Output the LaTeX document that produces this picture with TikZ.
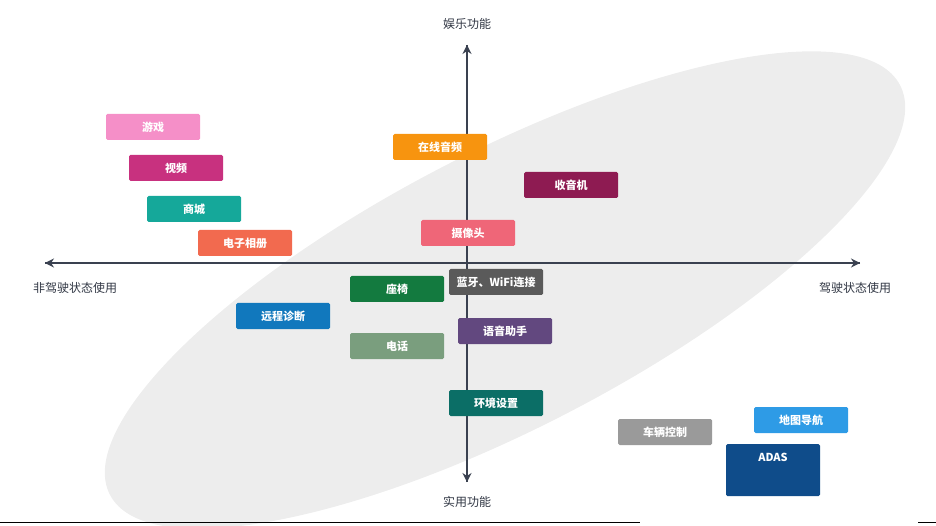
\documentclass[tikz,border=0pt]{standalone}
\usepackage{fontspec}
\setmainfont{Noto Sans CJK SC}
\usetikzlibrary{arrows.meta}
\definecolor{axc}{HTML}{3A4150}
\definecolor{c1}{RGB}{245,143,200}
\definecolor{c2}{RGB}{200,49,127}
\definecolor{c3}{RGB}{21,168,154}
\definecolor{c4}{RGB}{242,106,79}
\definecolor{c5}{RGB}{247,148,15}
\definecolor{c6}{RGB}{142,27,82}
\definecolor{c7}{RGB}{239,102,120}
\definecolor{c8}{RGB}{90,90,90}
\definecolor{c9}{RGB}{19,122,63}
\definecolor{c10}{RGB}{17,120,189}
\definecolor{c11}{RGB}{98,72,127}
\definecolor{c12}{RGB}{122,158,126}
\definecolor{c13}{RGB}{11,110,102}
\definecolor{c14}{RGB}{154,154,154}
\definecolor{c15}{RGB}{46,155,230}
\definecolor{c16}{RGB}{15,76,138}
\tikzset{bx/.style={fill=#1,rounded corners=1.5pt,minimum width=94pt,minimum height=26pt,inner sep=0pt,text=white,font=\fontsize{11}{12}\selectfont\bfseries},
lab/.style={text=axc!85!black,font=\fontsize{12}{13}\selectfont},
ax/.style={axc,line width=1.6pt,-{Stealth[length=9pt,width=9pt]}}}
\begin{document}
\begin{tikzpicture}[x=1pt,y=-1pt]
\useasboundingbox (0,0) rectangle (936,526);
\fill[gray!14, rotate around={27.4:(505,290)}] (505,290) ellipse (445 and 138);
\draw[black,line width=0.8pt] (0,522) -- (640,522);
\draw[black,line width=0.8pt] (918,522) -- (936,522);
\coordinate (L) at (45,263); \coordinate (R) at (860,263);
\coordinate (T) at (467,45); \coordinate (B) at (467,482);
\draw[ax] (L) -- (R); \draw[ax] (R) -- (L);
\draw[ax] (B) -- (T); \draw[ax] (T) -- (B);
\node[lab] (t) at (467,24) {娱乐功能};
\node[lab] (b) at (467,502) {实用功能};
\node[lab] (l) at (75,288) {非驾驶状态使用};
\node[lab] (r) at (855,288) {驾驶状态使用};
\node[bx=c1] (n1) at (153,127) {游戏};
\node[bx=c2] (n2) at (176,168) {视频};
\node[bx=c3] (n3) at (194,209) {商城};
\node[bx=c4] (n4) at (245,243) {电子相册};
\node[bx=c5] (n5) at (440,147) {在线音频};
\node[bx=c6] (n6) at (571,185) {收音机};
\node[bx=c7] (n7) at (468,233) {摄像头};
\node[bx=c8] (n8) at (496,282) {蓝牙、WiFi连接};
\node[bx=c9] (n9) at (397,289) {座椅};
\node[bx=c10] (n10) at (283,316) {远程诊断};
\node[bx=c11] (n11) at (505,331) {语音助手};
\node[bx=c12] (n12) at (397,346) {电话};
\node[bx=c13] (n13) at (496,403) {环境设置};
\node[bx=c14] (n14) at (665,432) {车辆控制};
\node[bx=c15] (n15) at (801,420) {地图导航};
\node[bx=c16,minimum height=52pt,anchor=north] (n16) at (773,444) {};
\node[text=white,font=\fontsize{11}{12}\selectfont\bfseries] (n16t) at (773,457) {ADAS};
\end{tikzpicture}
\end{document}
